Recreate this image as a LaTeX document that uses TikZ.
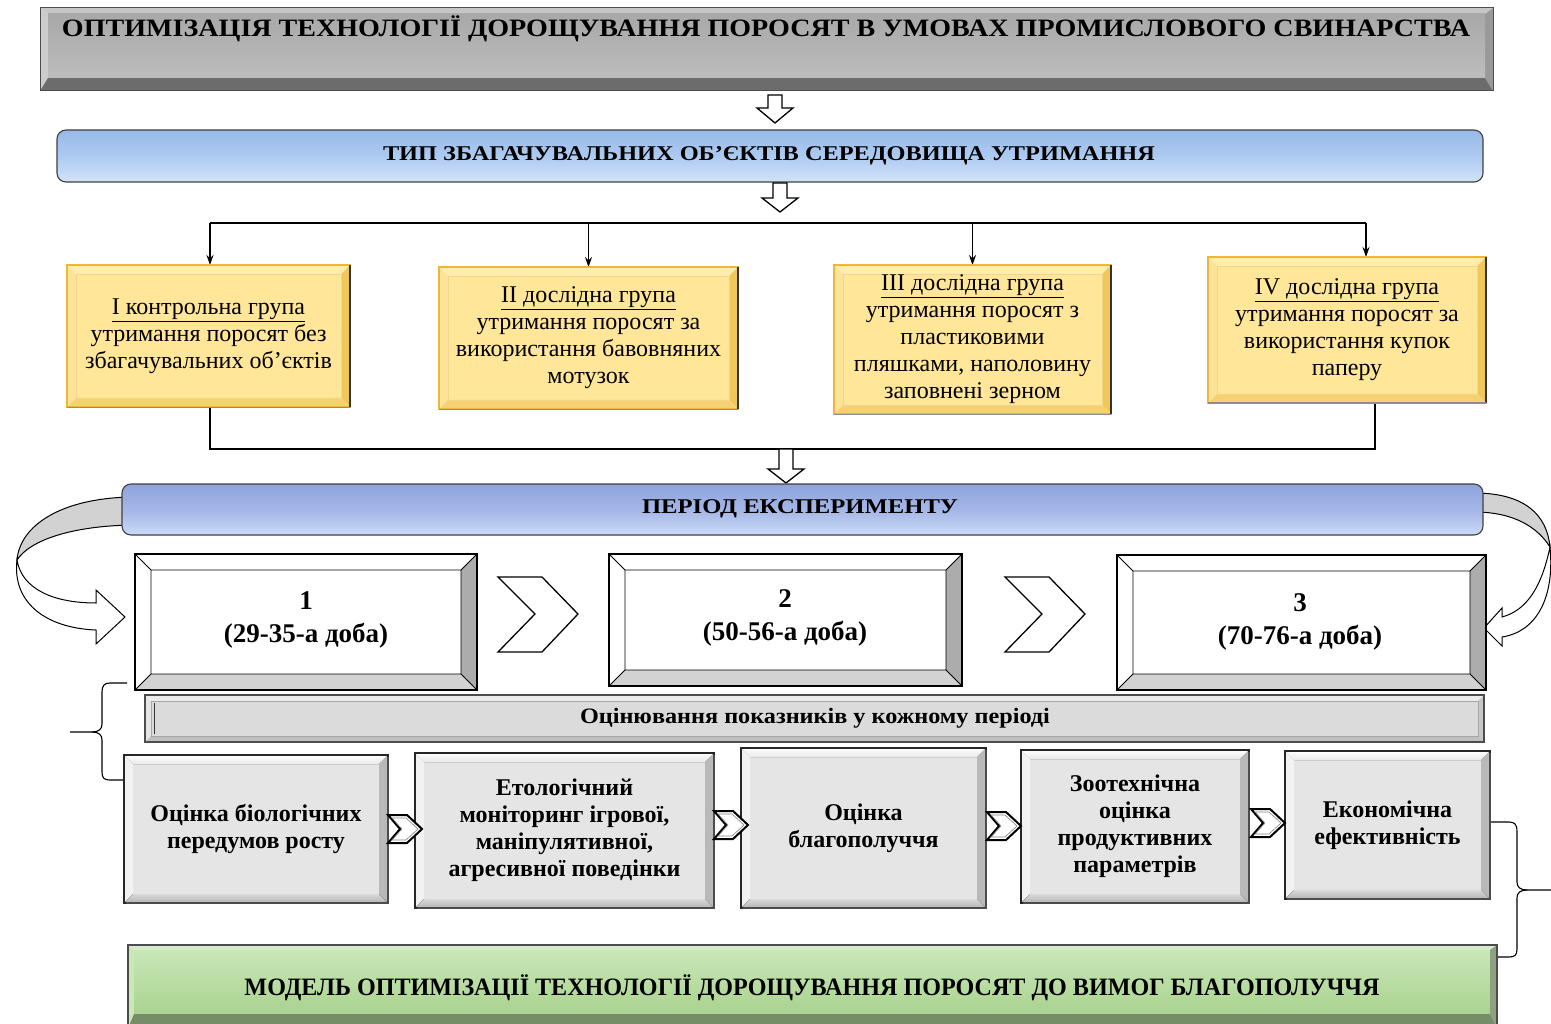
\documentclass[tikz,border=0pt]{standalone}
\usepackage{graphicx}
\usepackage{fontspec}
\setmainfont{Liberation Serif}
\usetikzlibrary{calc,arrows.meta}
\newsavebox\fitbox
\newcommand\fitx[2]{\sbox\fitbox{#2}\pgfmathsetmacro\fitr{#1/\the\wd\fitbox}\scalebox{\fitr}[1]{\usebox\fitbox}}
\definecolor{ylw}{HTML}{FFE699}
\definecolor{ylwT}{HTML}{FFEDB0}
\definecolor{ylwL}{HTML}{FCE39A}
\definecolor{ylwR}{HTML}{F2C75A}
\definecolor{ylwB}{HTML}{F6D172}
\definecolor{ylwE}{HTML}{EDB83A}
\definecolor{blA}{HTML}{98B9E8}
\definecolor{blB}{HTML}{ADCAF0}
\definecolor{blC}{HTML}{D2E3F8}
\definecolor{prA}{HTML}{8EA4DC}
\definecolor{prB}{HTML}{A3B6E6}
\definecolor{prC}{HTML}{CADBF6}
\definecolor{grA}{HTML}{C9E8B8}
\definecolor{grB}{HTML}{A9D28F}
\definecolor{grD}{HTML}{5E7A4C}
\newcommand\bevelcoords[2]{%
 \coordinate (A) at (#1.north west); \coordinate (B) at (#1.north east);
 \coordinate (C) at (#1.south east); \coordinate (D) at (#1.south west);
 \coordinate (a) at ($(A)+(#2,#2)$); \coordinate (b) at ($(B)+(-#2,#2)$);
 \coordinate (c) at ($(C)+(-#2,-#2)$); \coordinate (d) at ($(D)+(#2,-#2)$);}
\newcommand\bevelfaces[5]{%
 \fill[#1] (a) rectangle (c);
 \fill[#2] (A) -- (B) -- (b) -- (a) -- cycle;
 \fill[#3] (A) -- (a) -- (d) -- (D) -- cycle;
 \fill[#4] (B) -- (C) -- (c) -- (b) -- cycle;
 \fill[#5] (D) -- (d) -- (c) -- (C) -- cycle;}
\newcommand\hollowdown[4]{%
 \draw[line width=1.3,fill=white] (#1-7,#2) -- (#1+7,#2) -- (#1+7,#3) -- (#1+18,#3) -- (#1,#4) -- (#1-18,#3) -- (#1-7,#3) -- cycle;}
\newcommand\bigchev[1]{%
 \draw[line width=1.3,fill=white] (#1,577) -- (#1+44,577) -- (#1+80,614) -- (#1+44,652) -- (#1,652) -- (#1+37,614) -- cycle;}
\newcommand\smallchev[2]{%
 \draw[line width=2,fill=white] (#1,#2-14) -- (#1+19,#2-14) -- (#1+34,#2) -- (#1+19,#2+14) -- (#1,#2+14) -- (#1+12,#2) -- cycle;
 \draw[line width=0.6,gray] (#1+4,#2-11) -- (#1+18,#2-11) -- (#1+30,#2) -- (#1+18,#2+11) -- (#1+4,#2+11) -- (#1+14,#2) -- cycle;}
\tikzset{
 geo/.style={inner sep=0pt, outer sep=0pt, draw=none},
 ytxt/.style={align=center, font=\fontsize{24}{27}\selectfont},
 btxt/.style={align=center, font=\fontsize{24}{27}\selectfont\bfseries},
 ptxt/.style={align=center, font=\fontsize{27}{33}\selectfont\bfseries},
 bartxt/.style={inner sep=0pt, font=\fontsize{21}{24}\selectfont\bfseries},
 bigtxt/.style={inner sep=0pt, font=\fontsize{25}{28}\selectfont\bfseries},
 conn/.style={line width=1.1},
 connarr/.style={line width=1.1,-{Stealth[length=10pt,width=7pt]}},
}
\begin{document}
\begin{tikzpicture}[x=1pt,y=-1pt]
\useasboundingbox (0,0) rectangle (1551,1024);
\fill[white] (0,0) rectangle (1551,1024);

% ---------- geometry nodes ----------
\node[geo, minimum width=1453, minimum height=83] (title) at (766.5,49.5) {};
\node[geo, minimum width=1426, minimum height=52] (bar1) at (770,156) {};
\node[geo, minimum width=283, minimum height=142] (g1) at (208.5,336) {};
\node[geo, minimum width=299, minimum height=142] (g2) at (588.5,338) {};
\node[geo, minimum width=277, minimum height=149] (g3) at (972.5,339.5) {};
\node[geo, minimum width=278, minimum height=146] (g4) at (1347,330) {};
\node[geo, minimum width=1361, minimum height=51] (bar2) at (802.5,509.5) {};
\node[geo, minimum width=342, minimum height=136] (p1) at (306,622) {};
\node[geo, minimum width=353, minimum height=132] (p2) at (785.5,620) {};
\node[geo, minimum width=369, minimum height=135] (p3) at (1301.5,622.5) {};
\node[geo, minimum width=1339, minimum height=47] (ev) at (814.5,718.5) {};
\node[geo, minimum width=264, minimum height=148] (bA) at (256,829) {};
\node[geo, minimum width=299, minimum height=155] (bB) at (564.5,830.5) {};
\node[geo, minimum width=245, minimum height=160] (bC) at (863.5,828) {};
\node[geo, minimum width=228, minimum height=153] (bD) at (1135,826.5) {};
\node[geo, minimum width=205, minimum height=148] (bE) at (1387.5,825) {};
\node[geo, minimum width=1369, minimum height=83] (grn) at (812.5,986.5) {};

% ---------- title ----------
\coordinate (A) at (title.north west); \coordinate (B) at (title.north east);
\coordinate (C) at (title.south east); \coordinate (D) at (title.south west);
\coordinate (a) at ($(A)+(8,6)$); \coordinate (b) at ($(B)+(-8,6)$);
\coordinate (c) at ($(C)+(-8,-13)$); \coordinate (d) at ($(D)+(8,-13)$);
\bevelfaces{top color=gray!62,bottom color=gray!55}{gray!45}{gray!40}{gray!80}{gray!85!black}
\fill[top color=gray!68, bottom color=gray!52] (a) rectangle (c);
\draw[black!70,line width=1] (A) rectangle (C);
\node[bigtxt] (titletext) at (766,29) {\fitx{1408}{ОПТИМІЗАЦІЯ ТЕХНОЛОГІЇ ДОРОЩУВАННЯ ПОРОСЯТ В УМОВАХ ПРОМИСЛОВОГО СВИНАРСТВА}};

\hollowdown{775}{95}{108}{123}

% ---------- bar 1 ----------
\draw[rounded corners=9, black!75, line width=1.1, top color=blA, bottom color=blC, middle color=blB] (bar1.north west) rectangle (bar1.south east);
\node[bartxt] (bar1text) at (769,156) {\fitx{772}{ТИП ЗБАГАЧУВАЛЬНИХ ОБ’ЄКТІВ СЕРЕДОВИЩА УТРИМАННЯ}};

\hollowdown{780}{183}{198}{212}

% ---------- group connectors ----------
\coordinate (tl) at (210,223);
\coordinate (tr) at (1366,223);
\draw[conn] (tl) -- (tr);
\draw[connarr] (tl) -- (tl |- g1.north);
\draw[connarr] (g2.north |- tl) -- (g2.north);
\draw[connarr] (g3.north |- tl) -- (g3.north);
\draw[connarr] (tr) -- (tr |- g4.north);
\coordinate (g1b) at (210,407);
\coordinate (g4b) at (1375,403);
\draw[conn] (g1b) -- ++(0,42) -| (g4b);

% ---------- yellow boxes ----------
\foreach \n in {g1,g2,g3,g4}{
 \bevelcoords{\n}{9}
 \bevelfaces{fill=ylw}{fill=ylwT}{fill=ylwL}{fill=ylwR}{fill=ylwB}
 \draw[ylwE, line width=1.5] (A) rectangle (C);
 \draw[ylwE!60, line width=0.6] (a) rectangle (c);
 \draw[black!80, line width=2] (B) -- (C);
 \draw[black!45, line width=1] (D) -- (C);
}
\node[ytxt] (g1text) at (g1) {\underline{I контрольна група}\\утримання поросят без\\збагачувальних об’єктів};
\node[ytxt] (g2text) at (g2) {\underline{II дослідна група}\\утримання поросят за\\використання бавовняних\\мотузок};
\node[ytxt] (g3text) at (g3) {\underline{III дослідна група}\\утримання поросят з\\пластиковими\\пляшками, наполовину\\заповнені зерном};
\node[ytxt] (g4text) at (g4) {\underline{IV дослідна група}\\утримання поросят за\\використання купок\\паперу};

\hollowdown{786}{449}{469}{483}

% ---------- curved ribbon arrows ----------
\draw[line width=1,fill=gray!35] (132,497) .. controls (62,498) and (20,525) .. (17,560) .. controls (30,540) and (72,526) .. (132,525) -- cycle;
\draw[line width=1,fill=white] (17,560) .. controls (22,590) and (55,603) .. (96,603) -- (96,590) -- (125,617) -- (96,644) -- (96,630) .. controls (45,628) and (12,602) .. (17,560) -- cycle;
\draw[line width=1,fill=gray!35] (1474,493) .. controls (1525,493) and (1547,515) .. (1550,547) .. controls (1538,528) and (1515,512) .. (1474,512) -- cycle;
\draw[line width=1,fill=white] (1550,547) .. controls (1555,600) and (1535,632) .. (1502,637) -- (1502,646) -- (1484,628) -- (1502,608) -- (1502,617) .. controls (1528,610) and (1542,585) .. (1550,547) -- cycle;

% ---------- bar 2 ----------
\draw[rounded corners=9, black!75, line width=1.1, top color=prA, bottom color=prC, middle color=prB] (bar2.north west) rectangle (bar2.south east);
\node[bartxt] (bar2text) at (800,509) {\fitx{316}{ПЕРІОД ЕКСПЕРИМЕНТУ}};

% ---------- period boxes ----------
\foreach \n in {p1,p2,p3}{
 \bevelcoords{\n}{16}
 \bevelfaces{white}{white}{white}{gray!65}{gray!35}
 \draw[line width=1.8] (A) rectangle (C);
 \draw[line width=0.8] (a) rectangle (c) (A)--(a) (B)--(b) (C)--(c) (D)--(d);
}
\node[ptxt] (p1text) at (306,620) {1\\(29-35-а доба)};
\node[ptxt] (p2text) at (785,618) {2\\(50-56-а доба)};
\node[ptxt] (p3text) at (1300,622) {3\\(70-76-а доба)};
\bigchev{498}
\bigchev{1005}

% ---------- evaluation bar ----------
\bevelcoords{ev}{6}
\bevelfaces{fill=gray!28}{fill=gray!15}{fill=gray!20}{fill=gray!45}{fill=gray!50}
\draw[black!70, line width=1.2] (A) rectangle (C);
\draw[gray!70, line width=0.6] (a) rectangle (c);
\draw[black!80, line width=1] ($(a)+(3,2)$) -- ($(d)+(3,-2)$);
\node[bartxt, font=\fontsize{22}{25}\selectfont\bfseries] (evtext) at (815,718) {\fitx{470}{Оцінювання показників у кожному періоді}};

% ---------- braces ----------
\draw[line width=1.1] (127,683) -- (110,683) .. controls (104,683) and (102,686) .. (102,692) -- (102,724) .. controls (102,729) and (99,732) .. (92,732) -- (70,732);
\draw[line width=1.1] (92,732) .. controls (99,732) and (102,735) .. (102,740) -- (102,772) .. controls (102,778) and (104,780) .. (110,780) -- (125,780);
\draw[line width=1.1] (1490,822) -- (1509,822) .. controls (1515,822) and (1517,825) .. (1517,831) -- (1517,882) .. controls (1517,887) and (1520,890) .. (1527,890) -- (1551,890);
\draw[line width=1.1] (1527,890) .. controls (1520,890) and (1517,893) .. (1517,898) -- (1517,949) .. controls (1517,955) and (1515,957) .. (1509,957) -- (1497,957);

% ---------- bottom boxes ----------
\foreach \n in {bA,bB,bC,bD,bE}{
 \bevelcoords{\n}{9}
 \bevelfaces{fill=gray!20}{top color=white,bottom color=gray!18}{fill=gray!10}{fill=gray!55}{top color=gray!30,bottom color=gray!60}
 \draw[black!85, line width=1.2] (A) rectangle (C);
 \draw[black!70, line width=2.2] ($(B)+(0,2)$) -- (C) -- ($(D)+(2,0)$);
}
\node[btxt] (bAtext) at (bA) {Оцінка біологічних\\передумов росту};
\node[btxt] (bBtext) at (bB) {Етологічний\\моніторинг ігрової,\\маніпулятивної,\\агресивної поведінки};
\node[btxt] (bCtext) at (bC) {Оцінка\\благополуччя};
\node[btxt] (bDtext) at (bD) {Зоотехнічна\\оцінка\\продуктивних\\параметрів};
\node[btxt] (bEtext) at (bE) {Економічна\\ефективність};
\smallchev{388}{829}
\smallchev{714}{825}
\smallchev{987}{826}
\smallchev{1251}{823}

% ---------- green bar ----------
\coordinate (A) at (grn.north west); \coordinate (B) at (grn.north east);
\coordinate (C) at (grn.south east); \coordinate (D) at (grn.south west);
\coordinate (a) at ($(A)+(6,5)$); \coordinate (b) at ($(B)+(-7,5)$);
\coordinate (c) at ($(C)+(-7,-14)$); \coordinate (d) at ($(D)+(6,-14)$);
\bevelfaces{top color=grA,bottom color=grB}{fill=grA!80!white}{fill=grA}{fill=grD!70}{fill=grD!85}
\draw[black!70, line width=1.2] (A) rectangle (C);
\node[bigtxt] (grntext) at (812,988) {\fitx{1135}{МОДЕЛЬ ОПТИМІЗАЦІЇ ТЕХНОЛОГІЇ ДОРОЩУВАННЯ ПОРОСЯТ ДО ВИМОГ БЛАГОПОЛУЧЧЯ}};
\end{tikzpicture}
\end{document}
